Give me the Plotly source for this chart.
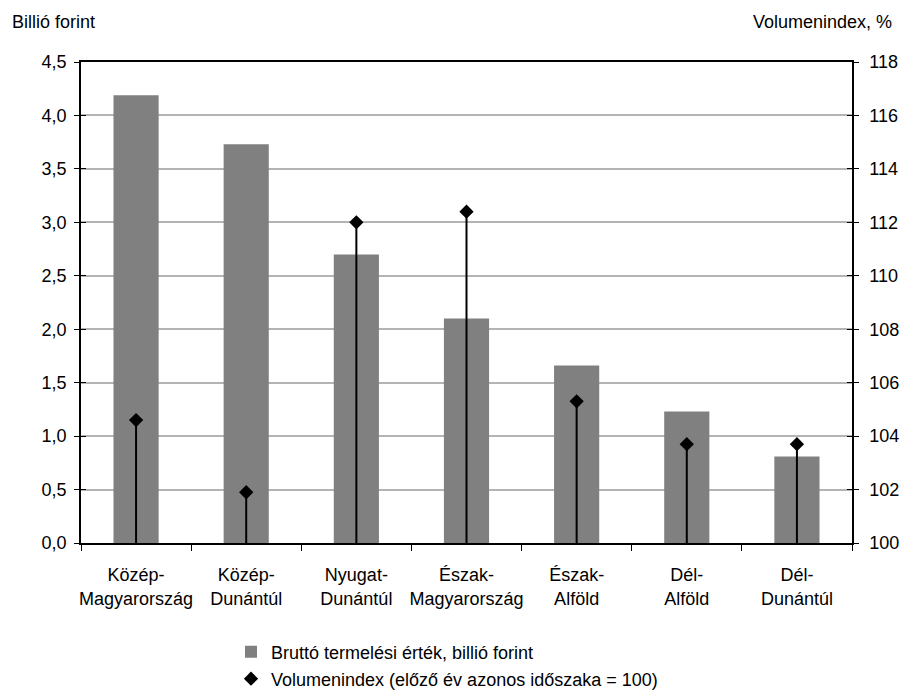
import plotly.graph_objects as go

categories = ["Közép-<br>Magyarország", "Közép-<br>Dunántúl", "Nyugat-<br>Dunántúl",
              "Észak-<br>Magyarország", "Észak-<br>Alföld", "Dél-<br>Alföld", "Dél-<br>Dunántúl"]
gross_output = [4.19, 3.73, 2.70, 2.10, 1.66, 1.23, 0.81]
volume_index = [104.6, 101.9, 112.0, 112.4, 105.3, 103.7, 103.7]
base_index = 100

bar_name = "Bruttó termelési érték, billió forint"
vol_name = "Volumenindex (előző év azonos időszaka = 100)"

FONT = "Liberation Sans, Arial, sans-serif"
FS = 18

W, H = 901, 690
L, R, T = 81, 49, 62
PLOT_W = 852 - 81
PLOT_H = 543 - 62
B = H - T - PLOT_H


def px_x(page_x):
    return (page_x - L) / PLOT_W


def px_y(page_y):
    return (543 - page_y) / PLOT_H


fig = go.Figure()
fig.add_trace(go.Bar(x=categories, y=gross_output, name=bar_name,
                     marker=dict(color="#808080", line=dict(width=0)), yaxis="y",
                     legend="legend"))
fig.add_trace(go.Scatter(x=categories, y=volume_index, name=vol_name, mode="markers",
                         marker=dict(symbol="diamond", size=11, color="black"),
                         error_y=dict(type="data", symmetric=False,
                                      array=[0] * len(volume_index),
                                      arrayminus=[v - base_index for v in volume_index],
                                      width=0, thickness=2, color="black"),
                         yaxis="y2", legend="legend2"))

legend_common = dict(xanchor="left", yanchor="middle", orientation="v",
                     font=dict(size=FS), bgcolor="rgba(0,0,0,0)", borderwidth=0)

fig.update_layout(
    width=W, height=H,
    margin=dict(l=L, r=R, t=T, b=B, autoexpand=False),
    paper_bgcolor="white", plot_bgcolor="white",
    font=dict(family=FONT, size=FS, color="black"),
    separators=", ",
    bargap=0.59,
    showlegend=True,
    legend=dict(x=px_x(231), y=px_y(652), **legend_common),
    legend2=dict(x=px_x(231), y=px_y(679), **legend_common),
    xaxis=dict(type="category", showline=True, linecolor="black", linewidth=1.5,
               mirror=True, ticks="outside", ticklen=6, tickcolor="black",
               tickson="boundaries", showgrid=False, tickangle=0,
               tickfont=dict(size=FS), ticklabelstandoff=15, automargin=False),
    yaxis=dict(range=[0, 4.5], dtick=0.5, tickformat=".1f", showgrid=True,
               gridcolor="#b4b4b4", gridwidth=2, showline=True, linecolor="black",
               linewidth=1.5, ticks="outside", ticklen=5, tickcolor="black",
               zeroline=False, tickfont=dict(size=FS), ticklabelstandoff=4,
               automargin=False),
    yaxis2=dict(range=[100, 118], dtick=2, overlaying="y", side="right",
                showgrid=False, showline=True, linecolor="black", linewidth=1.5,
                ticks="outside", ticklen=5, tickcolor="black", zeroline=False,
                tickfont=dict(size=FS), ticklabelstandoff=7, automargin=False),
    yaxis3=dict(range=[0, 4.5], dtick=0.5, overlaying="y", side="left",
                showgrid=False, showline=False, ticks="inside", ticklen=5,
                tickcolor="black", showticklabels=False, zeroline=False,
                automargin=False),
    yaxis4=dict(range=[100, 118], dtick=2, overlaying="y", side="right",
                showgrid=False, showline=False, ticks="inside", ticklen=5,
                tickcolor="black", showticklabels=False, zeroline=False,
                automargin=False),
    annotations=[
        dict(text="Billió forint", x=px_x(10), y=px_y(22), xref="paper", yref="paper",
             showarrow=False, xanchor="left", yanchor="middle", font=dict(size=FS)),
        dict(text="Volumenindex, %", x=px_x(894), y=px_y(22), xref="paper", yref="paper",
             showarrow=False, xanchor="right", yanchor="middle", font=dict(size=FS)),
    ],
)

# invisible traces to activate the inside-tick overlay axes
fig.add_trace(go.Scatter(x=[categories[0]], y=[0], yaxis="y3", mode="markers",
                         marker=dict(opacity=0), showlegend=False, hoverinfo="skip"))
fig.add_trace(go.Scatter(x=[categories[0]], y=[100], yaxis="y4", mode="markers",
                         marker=dict(opacity=0), showlegend=False, hoverinfo="skip"))

fig.write_html("out.html",
               config={"displayModeBar": False},
               post_script="document.body.style.margin='0';"
                           "document.body.style.overflow='hidden';")
